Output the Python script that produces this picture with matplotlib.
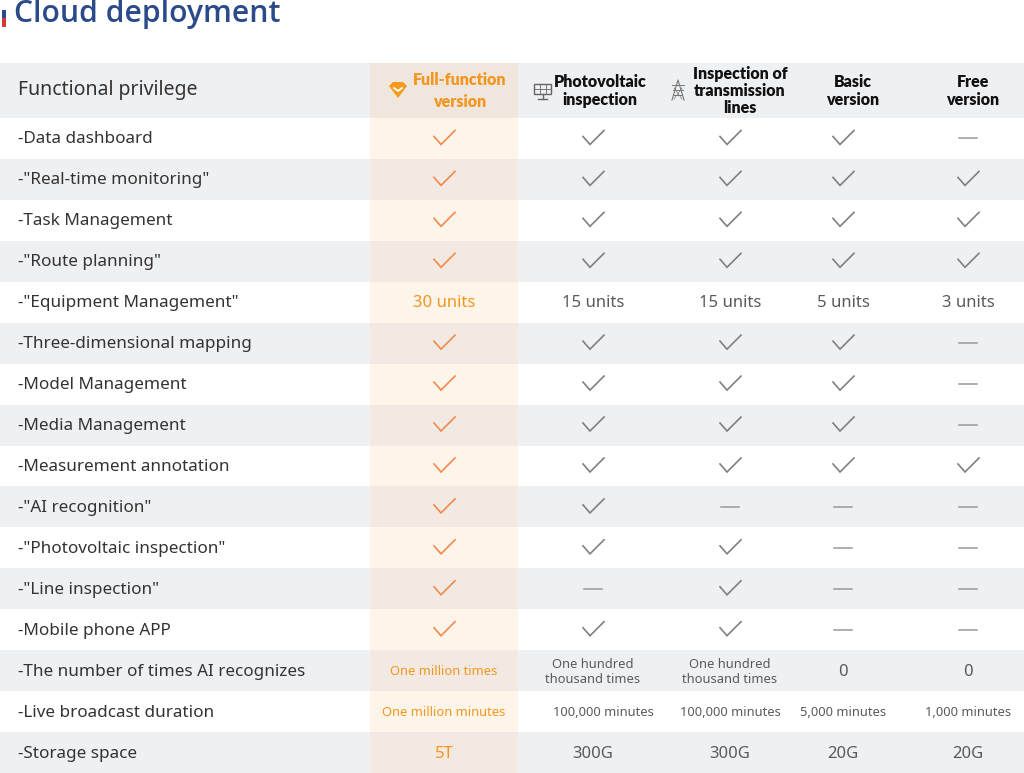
import matplotlib
matplotlib.use('Agg')
import matplotlib.pyplot as plt
from matplotlib.patches import Rectangle, Polygon

# ---- table content ----
title = 'Cloud deployment'
header_label = 'Functional privilege'
plans = ['Full-function\nversion', 'Photovoltaic\ninspection', 'Inspection of\ntransmission\nlines',
         'Basic\nversion', 'Free\nversion']
features = ['-Data dashboard', '-"Real-time monitoring"', '-Task Management', '-"Route planning"',
            '-"Equipment Management"', '-Three-dimensional mapping', '-Model Management',
            '-Media Management', '-Measurement annotation', '-"AI recognition"',
            '-"Photovoltaic inspection"', '-"Line inspection"', '-Mobile phone APP',
            '-The number of times AI recognizes', '-Live broadcast duration', '-Storage space']
# 'Y' = check mark, '-' = not included, anything else = text
full_function = ['Y', 'Y', 'Y', 'Y', '30 units', 'Y', 'Y', 'Y', 'Y', 'Y', 'Y', 'Y', 'Y',
                 'One million times', 'One million minutes', '5T']
photovoltaic = ['Y', 'Y', 'Y', 'Y', '15 units', 'Y', 'Y', 'Y', 'Y', 'Y', 'Y', '-', 'Y',
                'One hundred\nthousand times', '100,000 minutes', '300G']
transmission = ['Y', 'Y', 'Y', 'Y', '15 units', 'Y', 'Y', 'Y', 'Y', '-', 'Y', 'Y', 'Y',
                'One hundred\nthousand times', '100,000 minutes', '300G']
basic = ['Y', 'Y', 'Y', 'Y', '5 units', 'Y', 'Y', 'Y', 'Y', '-', '-', '-', '-',
         '0', '5,000 minutes', '20G']
free = ['-', 'Y', 'Y', 'Y', '3 units', '-', '-', '-', 'Y', '-', '-', '-', '-',
        '0', '1,000 minutes', '20G']
columns = [full_function, photovoltaic, transmission, basic, free]

# ---- layout (pixel units) ----
W, H = 1024, 773
col_edges = [370, 518, 668, 795, 893, 1024]
col_centers = [444, 593, 730, 843, 968]
val_shift = [0, 10, 0, 0, 0]
head_centers = [460, 600, 740, 853, 973]
head_spacing = [1.45, 1.2, 1.1, 1.15, 1.15]
head_top, head_bot = 63, 118
row_h = (H - head_bot) / len(features)

blue = '#2b4a8a'
orange_txt = '#f4961e'
orange_chk = '#f28a4c'
gray_row = '#eff0f2'
hl_white = '#fdf4ea'
hl_gray = '#f1e9e2'
hl_head = '#efe6de'
txt = '#333333'
val = '#5a5a5a'
plt.rcParams['font.family'] = ['Noto Sans', 'DejaVu Sans']
HEAD_FONT = ['Lato', 'DejaVu Sans']

fig = plt.figure(figsize=(W / 100, H / 100), dpi=100)
ax = fig.add_axes([0, 0, 1, 1])
ax.set_xlim(0, W)
ax.set_ylim(H, 0)
ax.axis('off')

# title
ax.add_patch(Rectangle((2, 10), 4, 8, color=blue, lw=0))
ax.add_patch(Rectangle((2, 18), 4, 9, color='#d23a3a', lw=0))
ax.text(14, 14, title, fontsize=21.7, color=blue, va='center', ha='left',
        family=['Open Sans', 'DejaVu Sans'], fontweight='semibold')

# header row
ax.add_patch(Rectangle((0, head_top), W, head_bot - head_top, color=gray_row, lw=0))
ax.add_patch(Rectangle((col_edges[0], head_top), col_edges[1] - col_edges[0],
                       head_bot - head_top, color=hl_head, lw=0))
ax.text(18, 90, header_label, fontsize=14, color=txt, va='center', ha='left')
for i, p in enumerate(plans):
    ax.text(head_centers[i], 91, p, fontsize=11.5, fontweight='heavy', ha='center', va='center',
            family=HEAD_FONT, color=orange_txt if i == 0 else '#111111',
            linespacing=head_spacing[i])

# icons in header
ax.add_patch(Polygon([(389, 86), (393, 82), (403, 82), (407, 86), (398, 98)], closed=True,
                     color='#f49b1e', lw=0))
ax.plot([394, 398, 402], [88, 91, 88], color='white', lw=1.3)
ax.add_patch(Rectangle((534, 84), 17, 10, fill=False, ec='#666666', lw=1.0))
for gx in [539.5, 545.5]:
    ax.plot([gx, gx], [84, 94], color='#666666', lw=0.6)
ax.plot([534, 551], [89, 89], color='#666666', lw=0.6)
ax.plot([542.5, 542.5], [94, 99], color='#666666', lw=1.0)
ax.plot([538, 547], [99, 99], color='#666666', lw=1.0)
ax.plot([672, 678, 684], [100, 80, 100], color='#777777', lw=0.8)
for ty, hw in [(85, 6), (90, 5), (95, 4)]:
    ax.plot([678 - hw, 678 + hw], [ty, ty], color='#777777', lw=0.7)
ax.plot([674, 682], [88, 99], color='#777777', lw=0.5)
ax.plot([682, 674], [88, 99], color='#777777', lw=0.5)

# body
for r, feat in enumerate(features):
    y0 = head_bot + r * row_h
    yc = y0 + row_h / 2
    gray = r % 2 == 1
    if gray:
        ax.add_patch(Rectangle((0, y0), W, row_h, color=gray_row, lw=0))
    ax.add_patch(Rectangle((col_edges[0], y0), col_edges[1] - col_edges[0], row_h,
                           color=hl_gray if gray else hl_white, lw=0))
    ax.text(18, yc + 1, feat, fontsize=12.3, color=txt, va='center', ha='left')
    for c, colvals in enumerate(columns):
        v = colvals[r]
        cx = col_centers[c]
        hl = c == 0
        if v == 'Y':
            ax.plot([cx - 10, cx - 3, cx + 11], [yc - 2, yc + 6, yc - 8],
                    color=orange_chk if hl else '#808080', lw=1.2, solid_joinstyle='miter')
        elif v == '-':
            ax.plot([cx - 9, cx + 9], [yc, yc], color='#999999', lw=1.1)
        else:
            small = len(v) > 8
            shift = val_shift[c] if (small and '\n' not in v) else 0
            ax.text(cx + shift, yc + 1, v, fontsize=9.3 if small else 12, ha='center',
                    va='center', color=orange_txt if hl else val, linespacing=1.2)

fig.savefig('out.png', dpi=100)
